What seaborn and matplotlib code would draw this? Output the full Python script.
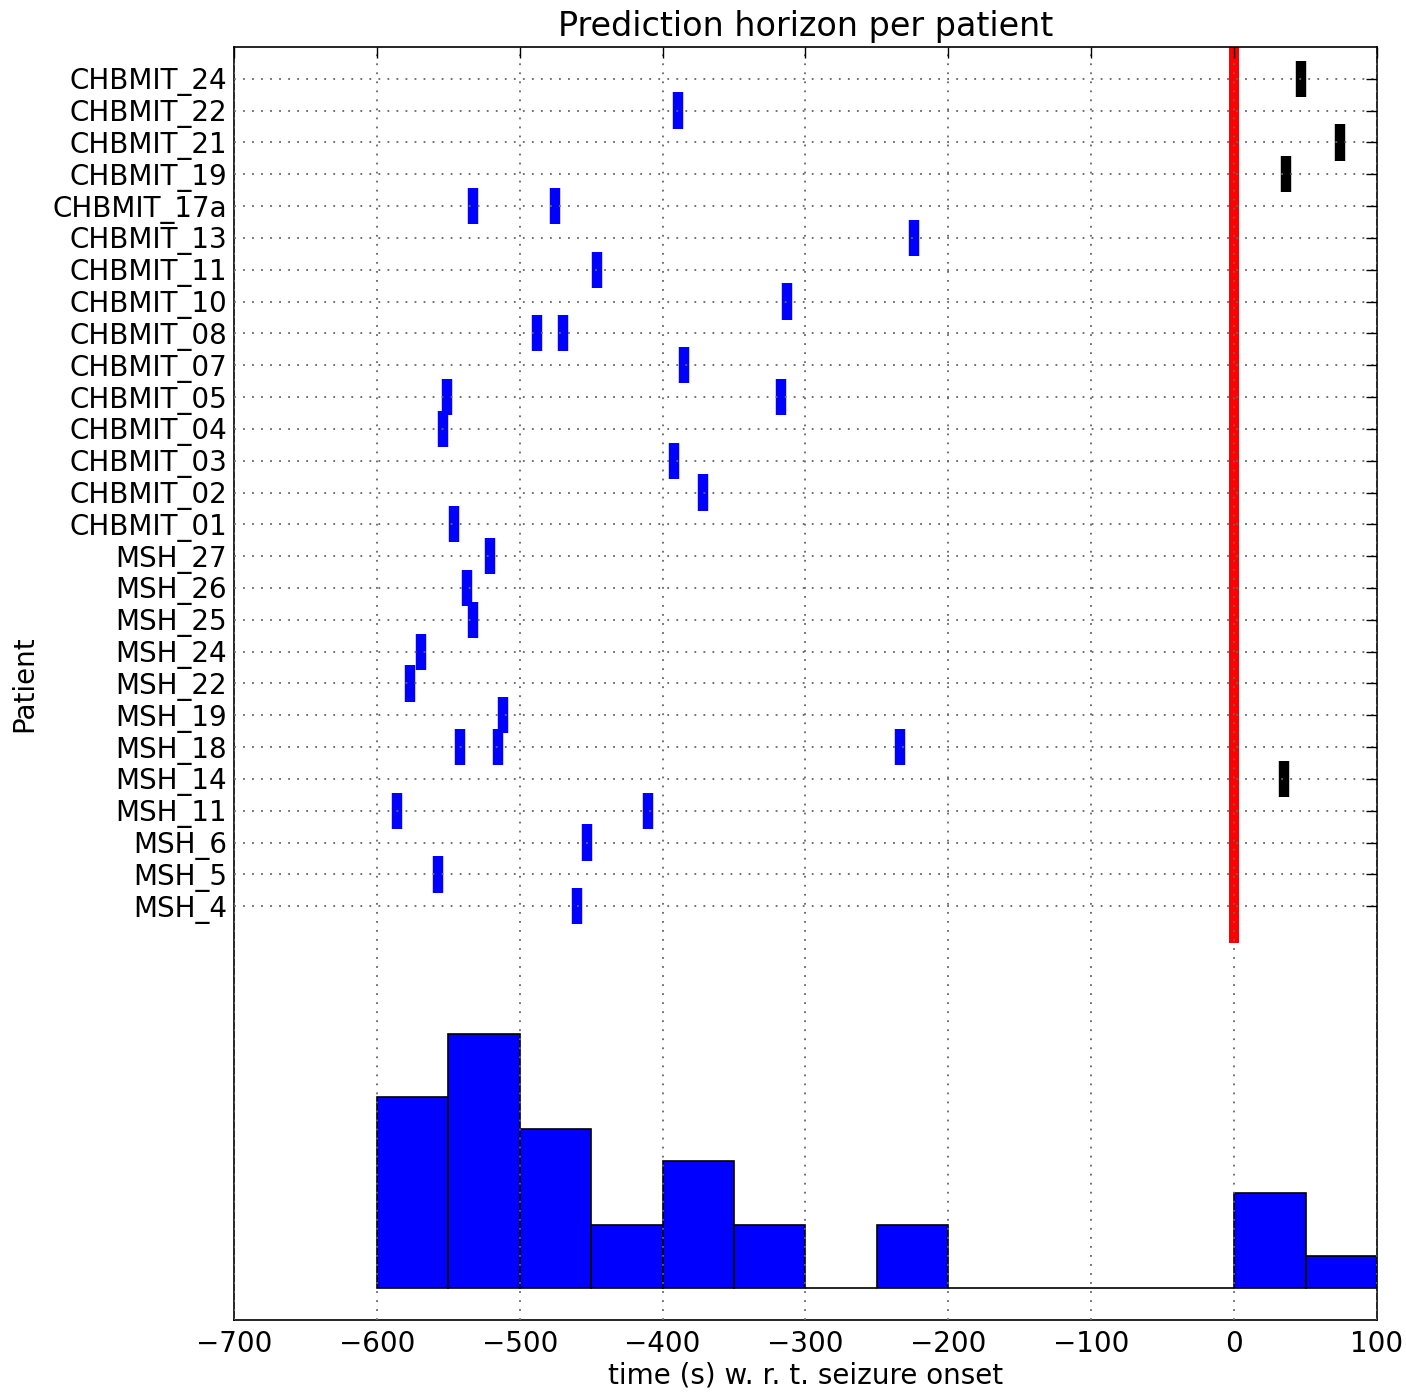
import numpy as np
import pandas as pd
import matplotlib
matplotlib.use("Agg")
import matplotlib.pyplot as plt
import seaborn as sns

# patients from top to bottom, with the prediction times (s) per patient
PATIENTS = [
    "CHBMIT_24", "CHBMIT_22", "CHBMIT_21", "CHBMIT_19", "CHBMIT_17a",
    "CHBMIT_13", "CHBMIT_11", "CHBMIT_10", "CHBMIT_08", "CHBMIT_07",
    "CHBMIT_05", "CHBMIT_04", "CHBMIT_03", "CHBMIT_02", "CHBMIT_01",
    "MSH_27", "MSH_26", "MSH_25", "MSH_24", "MSH_22", "MSH_19",
    "MSH_18", "MSH_14", "MSH_11", "MSH_6", "MSH_5", "MSH_4",
]
HORIZONS = [
    [46.5], [-389], [74], [36], [-533, -475],
    [-224], [-446], [-313], [-488, -470], [-385],
    [-551, -317], [-554], [-392], [-372], [-546],
    [-521], [-537], [-533], [-569], [-577], [-512],
    [-542, -515, -234], [35], [-586, -410], [-453], [-557], [-460],
]
BIN_EDGES = list(range(-600, 101, 50))
XTICKS = list(range(-700, 101, 100))

HIST_BASE = -12

# long-form table for seaborn
rows = []
n = len(PATIENTS)
for i, (name, times) in enumerate(zip(PATIENTS, HORIZONS)):
    for t in times:
        rows.append({"patient": name, "pos": n - 1 - i, "time": t, "late": t > 0})
df = pd.DataFrame(rows)

sns.set_style("white")
plt.rcParams["font.family"] = ["DejaVu Sans"]
plt.rcParams["text.color"] = "black"
plt.rcParams["axes.labelcolor"] = "black"
plt.rcParams["xtick.color"] = "black"
plt.rcParams["ytick.color"] = "black"

fig = plt.figure(figsize=(14.06, 13.93), dpi=100)
ax = fig.add_axes([0.1664, 0.0524, 0.813, 0.9139])

sns.scatterplot(data=df, x="time", y="pos", hue="late",
                palette={False: "blue", True: "black"},
                marker="|", s=680, linewidth=7.5, legend=False, ax=ax, zorder=1)

# seizure onset
ax.plot([0, 0], [-1, n], color="red", lw=7.2, solid_capstyle="projecting", zorder=2)

# histogram of all prediction times, drawn under the patient rows
counts, edges = np.histogram(df["time"], bins=BIN_EDGES)
ax.bar(edges[:-1], counts, width=np.diff(edges), bottom=HIST_BASE,
       align="edge", color="blue", edgecolor="black", linewidth=1.2, zorder=1)

ax.set_xlim(-700, 100)
ax.set_ylim(-13, n)
ax.set_xticks(XTICKS)
ax.set_xticklabels([f"{v:d}".replace("-", "\u2212") for v in XTICKS], fontsize=20)
ax.set_yticks([n - 1 - i for i in range(n)])
ax.set_yticklabels(PATIENTS, fontsize=20)

ax.set_axisbelow(False)
ax.grid(True, color="0.4", linestyle=(0, (1, 4)), linewidth=1.3)
ax.tick_params(direction="in", top=True, right=True, length=8, width=1)
ax.tick_params(axis="x", pad=7)
ax.tick_params(axis="y", pad=5)
for sp in ax.spines.values():
    sp.set_color("black")
    sp.set_linewidth(1.2)

ax.set_title("Prediction horizon per patient", fontsize=24, pad=8)
ax.set_xlabel("time (s) w. r. t. seizure onset", fontsize=20, labelpad=3)
ax.set_ylabel("Patient", fontsize=20, labelpad=10)

fig.savefig("out.png", dpi=100, facecolor="white")
